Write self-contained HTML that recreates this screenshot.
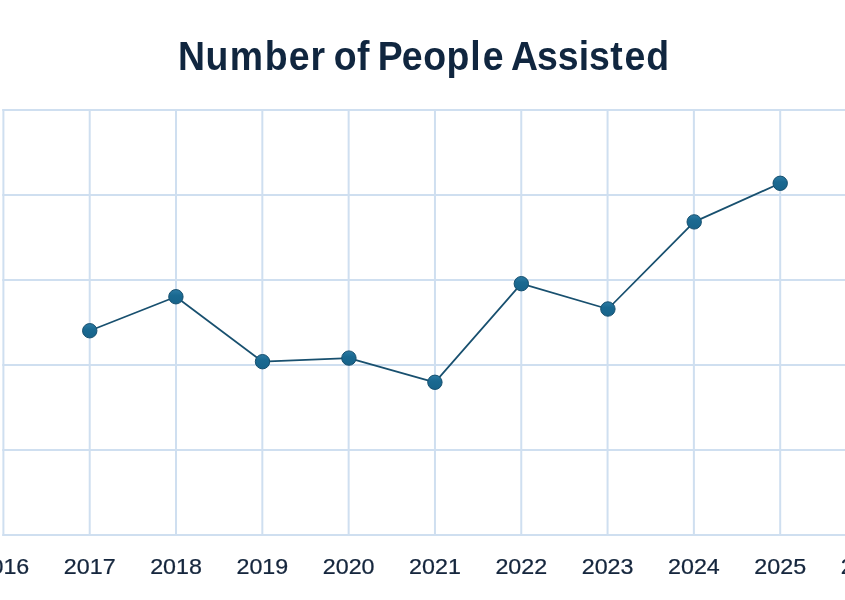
<!DOCTYPE html>
<html lang="en"><head><meta charset="utf-8"><title>Number of People Assisted</title>
<style>
html,body{margin:0;padding:0;background:#fff;}
body{width:845px;height:600px;overflow:hidden;font-family:"Liberation Sans",sans-serif;}
svg{display:block;}
.title{font-family:"Liberation Sans",sans-serif;font-weight:700;font-size:40px;fill:#10263f;}
.tick{font-family:"Liberation Sans",sans-serif;font-size:22.5px;fill:#15263d;stroke:#15263d;stroke-width:0.25px;}
.grid line{stroke:#cfdff0;stroke-width:2;}
</style></head><body>
<svg width="845" height="600" viewBox="0 0 845 600">
<defs><linearGradient id="mk" x1="0" y1="0" x2="0" y2="1"><stop offset="0" stop-color="#2c7aa3"/><stop offset="0.4" stop-color="#1a6991"/><stop offset="1" stop-color="#17638a"/></linearGradient></defs>
<rect width="845" height="600" fill="#ffffff"/>
<g class="title">
<text transform="scale(0.935,1)" y="70" x="190.38 219.73 245.67 283.06 308.73 332.16">Number</text>
<text transform="scale(0.935,1)" y="70" x="356.87 381.94">of</text>
<text transform="scale(0.935,1)" y="70" x="403.95 429.63 452.76 477.66 503.02 516.37">People</text>
<text transform="scale(0.935,1)" y="70" x="546.44 574.4 596.64 618.95 630.06 652.59 667.82 691.2">Assisted</text>
</g>
<g class="grid">
<line x1="3.40" y1="109" x2="3.40" y2="536"/>
<line x1="89.71" y1="109" x2="89.71" y2="536"/>
<line x1="176.02" y1="109" x2="176.02" y2="536"/>
<line x1="262.33" y1="109" x2="262.33" y2="536"/>
<line x1="348.64" y1="109" x2="348.64" y2="536"/>
<line x1="434.95" y1="109" x2="434.95" y2="536"/>
<line x1="521.26" y1="109" x2="521.26" y2="536"/>
<line x1="607.57" y1="109" x2="607.57" y2="536"/>
<line x1="693.88" y1="109" x2="693.88" y2="536"/>
<line x1="780.19" y1="109" x2="780.19" y2="536"/>
<line x1="866.50" y1="109" x2="866.50" y2="536"/>
<line x1="2.25" y1="110" x2="845" y2="110"/>
<line x1="2.25" y1="195" x2="845" y2="195"/>
<line x1="2.25" y1="280" x2="845" y2="280"/>
<line x1="2.25" y1="365" x2="845" y2="365"/>
<line x1="2.25" y1="450" x2="845" y2="450"/>
<line x1="2.25" y1="535" x2="845" y2="535"/>
</g>
<polyline fill="none" stroke="#18506f" stroke-width="1.75" stroke-linejoin="round" points="89.75,330.75 175.9,296.75 262.5,361.7 348.9,358.1 434.9,382.3 521.3,283.7 607.9,309 694.2,221.9 780.2,183.3"/>
<g fill="url(#mk)" stroke="#17506f" stroke-width="1">
<circle cx="89.75" cy="330.75" r="7.2"/>
<circle cx="175.9" cy="296.75" r="7.2"/>
<circle cx="262.5" cy="361.7" r="7.2"/>
<circle cx="348.9" cy="358.1" r="7.2"/>
<circle cx="434.9" cy="382.3" r="7.2"/>
<circle cx="521.3" cy="283.7" r="7.2"/>
<circle cx="607.9" cy="309" r="7.2"/>
<circle cx="694.2" cy="221.9" r="7.2"/>
<circle cx="780.2" cy="183.3" r="7.2"/>
</g>
<g class="tick" text-anchor="middle">
<text transform="translate(3.40,574) scale(1.035,1)">2016</text>
<text transform="translate(89.71,574) scale(1.035,1)">2017</text>
<text transform="translate(176.02,574) scale(1.035,1)">2018</text>
<text transform="translate(262.33,574) scale(1.035,1)">2019</text>
<text transform="translate(348.64,574) scale(1.035,1)">2020</text>
<text transform="translate(434.95,574) scale(1.035,1)">2021</text>
<text transform="translate(521.26,574) scale(1.035,1)">2022</text>
<text transform="translate(607.57,574) scale(1.035,1)">2023</text>
<text transform="translate(693.88,574) scale(1.035,1)">2024</text>
<text transform="translate(780.19,574) scale(1.035,1)">2025</text>
<text transform="translate(866.50,574) scale(1.035,1)">2026</text>
</g>
</svg></body></html>
